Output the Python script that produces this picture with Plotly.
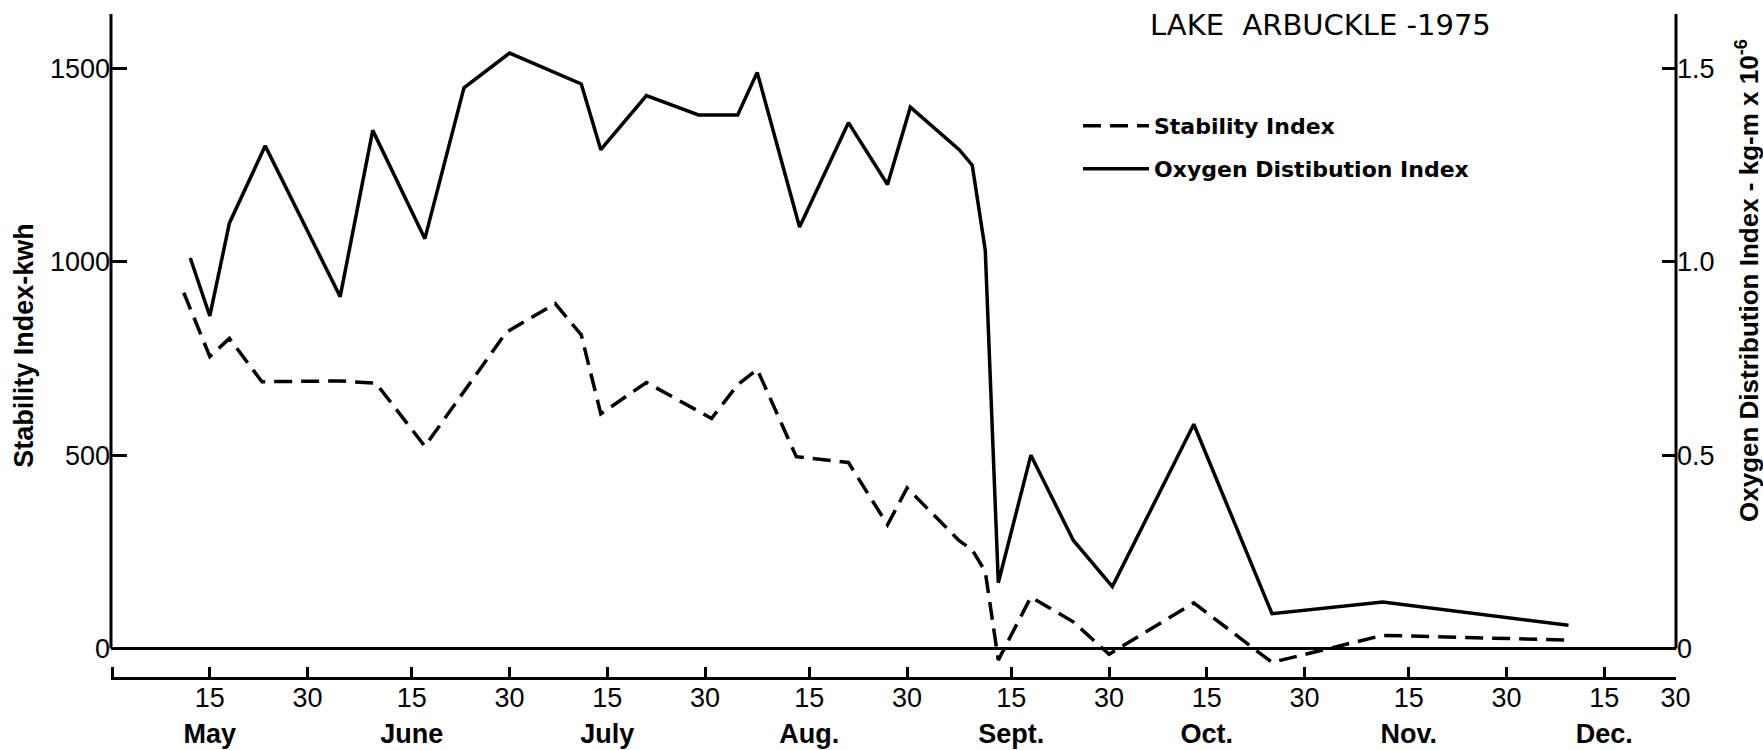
import plotly.graph_objects as go

# ---------------- data ----------------
oxy_dates = [
    "1975-05-12", "1975-05-15", "1975-05-18", "1975-05-23 12:00", "1975-06-04",
    "1975-06-09", "1975-06-17", "1975-06-23", "1975-06-30", "1975-07-07",
    "1975-07-11", "1975-07-14", "1975-07-21", "1975-07-29", "1975-08-04",
    "1975-08-07", "1975-08-13 12:00", "1975-08-21", "1975-08-27", "1975-08-30 12:00",
    "1975-09-07", "1975-09-09", "1975-09-11", "1975-09-13", "1975-09-18",
    "1975-09-24 12:00", "1975-09-30 12:00", "1975-10-13", "1975-10-25", "1975-11-11",
    "1975-12-09 12:00",
]
oxy_values = [
    1.01, 0.86, 1.10, 1.30, 0.91,
    1.34, 1.06, 1.45, 1.54, 1.49,
    1.46, 1.29, 1.43, 1.38, 1.38,
    1.49, 1.09, 1.36, 1.20, 1.40,
    1.29, 1.25, 1.03, 0.17, 0.50,
    0.28, 0.16, 0.58, 0.09, 0.12,
    0.06,
]

stab_dates = [
    "1975-05-11", "1975-05-15", "1975-05-18", "1975-05-23", "1975-06-04",
    "1975-06-09 12:00", "1975-06-17", "1975-06-29 12:00", "1975-07-07", "1975-07-11",
    "1975-07-14", "1975-07-21", "1975-07-31", "1975-08-04", "1975-08-07",
    "1975-08-13", "1975-08-21", "1975-08-27", "1975-08-30", "1975-09-07",
    "1975-09-09", "1975-09-11", "1975-09-13", "1975-09-18", "1975-09-24 12:00",
    "1975-09-30", "1975-10-13", "1975-10-25", "1975-11-11", "1975-12-09",
]
stab_values = [
    920, 755, 802, 690, 692,
    686, 523, 818, 892, 811,
    607, 688, 595, 682, 722,
    496, 481, 320, 415, 279,
    255, 199, -30, 133, 69,
    -15, 118, -36, 34, 22,
]

tick_dates = [
    "1975-04-30", "1975-05-15", "1975-05-30", "1975-06-15", "1975-06-30",
    "1975-07-15", "1975-07-30", "1975-08-15", "1975-08-30", "1975-09-15",
    "1975-09-30", "1975-10-15", "1975-10-30", "1975-11-15", "1975-11-30",
    "1975-12-15", "1975-12-25 22:00",
]
tick_labels = [
    " ", "15<br><b>May</b>", "30", "15<br><b>June</b>", "30",
    "15<br><b>July</b>", "30", "15<br><b>Aug.</b>", "30", "15<br><b>Sept.</b>",
    "30", "15<br><b>Oct.</b>", "30", "15<br><b>Nov.</b>", "30",
    "15<br><b>Dec.</b>", "30",
]
left_ticks = [0, 500, 1000, 1500]
right_ticks = [0, 0.5, 1.0, 1.5]
right_tick_labels = ["0", "0.5", "1.0", "1.5"]

# ---------------- styling ----------------
X_RANGE = ["1975-04-29 20:00", "1975-12-26"]
Y_RANGE = [-73.7, 1641]
Y2_RANGE = [v / 1000 for v in Y_RANGE]
NARROW = "Liberation Sans, Arial, sans-serif"
WIDE = "DejaVu Sans, sans-serif"

fig = go.Figure()
fig.add_trace(go.Scatter(
    x=stab_dates, y=stab_values, mode="lines", name="Stability Index",
    line=dict(color="black", width=3.5, dash="18px,9px"),
    legend="legend", yaxis="y", showlegend=True,
))
fig.add_trace(go.Scatter(
    x=oxy_dates, y=oxy_values, mode="lines", name="Oxygen Distibution Index",
    line=dict(color="black", width=3.5),
    legend="legend2", yaxis="y2", showlegend=True,
))

tickfont = dict(family=NARROW, size=27, color="black")
legendfont = dict(family=WIDE, size=22, color="black", weight="bold")

fig.update_layout(
    width=1763, height=750,
    margin=dict(l=111, r=87, t=14, b=73, autoexpand=False),
    paper_bgcolor="white", plot_bgcolor="white",
    showlegend=True,
    title=dict(
        text="LAKE  ARBUCKLE -1975",
        x=1150 / 1763, xref="container", xanchor="left",
        y=1 - 25 / 750, yref="container", yanchor="middle",
        font=dict(family=WIDE, size=29, color="black"),
    ),
    xaxis=dict(
        type="date", range=X_RANGE, automargin=False,
        tickmode="array", tickvals=tick_dates, ticktext=tick_labels,
        ticks="inside", ticklen=10, tickwidth=3, tickcolor="black",
        showline=True, linecolor="black", linewidth=3,
        showgrid=False, zeroline=False, tickfont=tickfont,
        ticklabelstandoff=-5,
    ),
    yaxis=dict(
        range=Y_RANGE, automargin=False, tickmode="array", tickvals=left_ticks,
        ticks="inside", ticklen=16, tickwidth=3, tickcolor="black",
        showline=False, showgrid=False,
        zeroline=True, zerolinecolor="black", zerolinewidth=3,
        tickfont=tickfont,
        title=dict(text="Stability Index-kwh", standoff=8,
                   font=dict(family=NARROW, size=27, color="black", weight="bold")),
    ),
    yaxis2=dict(
        overlaying="y", side="right", range=Y2_RANGE, automargin=False,
        tickmode="array", tickvals=right_ticks, ticktext=right_tick_labels,
        ticks="inside", ticklen=14, tickwidth=3, tickcolor="black",
        showline=False, showgrid=False, zeroline=False, tickfont=tickfont,
    ),
    legend=dict(
        x=(1078 - 111) / 1565, xanchor="left",
        y=1 - (126 - 14) / 663, yanchor="middle",
        font=legendfont, itemwidth=66, bgcolor="rgba(0,0,0,0)",
    ),
    legend2=dict(
        x=(1078 - 111) / 1565, xanchor="left",
        y=1 - (169 - 14) / 663, yanchor="middle",
        font=legendfont, itemwidth=66, bgcolor="rgba(0,0,0,0)",
    ),
    shapes=[
        dict(type="line", xref="paper", yref="y", x0=0, x1=0, y0=0, y1=Y_RANGE[1],
             line=dict(color="black", width=3)),
        dict(type="line", xref="paper", yref="y", x0=1, x1=1, y0=0, y1=Y_RANGE[1],
             line=dict(color="black", width=3)),
    ],
    annotations=[
        dict(text="Oxygen Distribution Index - kg-m x 10<sup>-6</sup>",
             xref="paper", yref="paper",
             x=(1747 - 111) / 1565, y=1 - (281 - 14) / 663,
             xanchor="center", yanchor="middle", textangle=-90, showarrow=False,
             font=dict(family=NARROW, size=26, color="black", weight="bold")),
    ],
)

fig.write_html("out.html")
